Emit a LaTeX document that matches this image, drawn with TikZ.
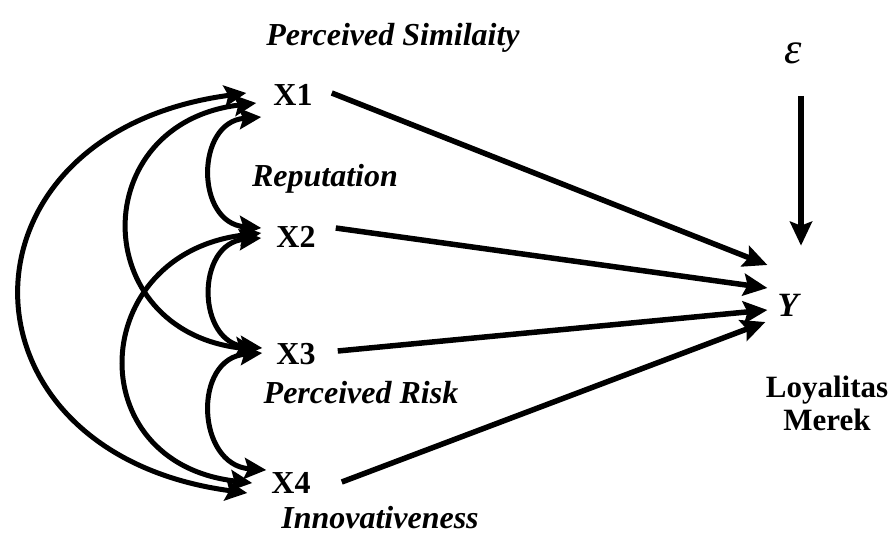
\documentclass[tikz,border=0pt]{standalone}
\usepackage{fontspec}
\setmainfont{Liberation Serif}
\usetikzlibrary{arrows.meta}
\tikzset{
  var/.style = {inner sep=0pt, font=\fontsize{32}{38}\selectfont\bfseries},
  lab/.style = {inner sep=0pt, font=\fontsize{32}{38}\selectfont\bfseries\itshape},
  path/.style = {line width=5.5pt, -{Stealth[length=24pt,width=22pt,inset=4pt]}},
  cov/.style = {line width=5pt, {Stealth[length=22pt,width=21pt,inset=4pt]}-{Stealth[length=22pt,width=21pt,inset=4pt]}}
}
\begin{document}
\begin{tikzpicture}[x=1pt,y=-1pt]
\useasboundingbox (0,0) rectangle (893,536);
\node[lab] (simi) at (393,38) {Perceived Similaity};
\node[var] (x1) at (293,95) {X1};
\node[lab] (repu) at (325,179) {Reputation};
\node[var] (x2) at (296,237) {X2};
\node[var] (x3) at (296,354) {X3};
\node[lab] (risk) at (361,393) {Perceived Risk};
\node[var] (x4) at (291,483) {X4};
\node[lab] (inno) at (380,518) {Innovativeness};
\node[lab, font=\fontsize{44}{48}\selectfont\itshape] (eps) at (793,53) {ε};
\node[var, font=\fontsize{34}{38}\selectfont\bfseries\itshape] (y) at (788,305) {Y};
\node[var, align=center, font=\fontsize{31}{33}\selectfont\bfseries] (loy) at (827,403) {Loyalitas\\Merek};
% paths to Y
\draw[path] ([shift={(19,-2)}]x1.east) -- ([shift={(-10,-40)}]y.west);
\draw[path] ([shift={(20,-9)}]x2.east) -- ([shift={(-10,-17)}]y.west);
\draw[path] ([shift={(22,-3)}]x3.east) -- ([shift={(-10,5)}]y.west);
\draw[path] ([shift={(31,-1)}]x4.east) -- ([shift={(-12,17)}]y.west);
\draw[path] ([shift={(8,32)}]eps.south) -- ([shift={(13,-48)}]y.north);
% correlations
\draw[cov] ([shift={(-27,-2)}]x1.west) .. controls +(-300,40) and +(-300,-40) .. ([shift={(-24,10)}]x4.west);
\draw[cov] ([shift={(-17,8)}]x1.west) .. controls +(-170,20) and +(-170,-20) .. ([shift={(-19,-4)}]x3.west);
\draw[cov] ([shift={(-15,-4)}]x2.west) .. controls +(-174,20) and +(-174,-20) .. ([shift={(-19,0)}]x4.west);
\draw[cov] ([shift={(-12,22)}]x1.west) .. controls +(-66,5) and +(-66,-5) .. ([shift={(-15,-9)}]x2.west);
\draw[cov] ([shift={(-15,1)}]x2.west) .. controls +(-66,5) and +(-66,-5) .. ([shift={(-14,-6)}]x3.west);
\draw[cov] ([shift={(-14,-1)}]x3.west) .. controls +(-70,5) and +(-70,-5) .. ([shift={(-5,-13)}]x4.west);
\end{tikzpicture}
\end{document}
